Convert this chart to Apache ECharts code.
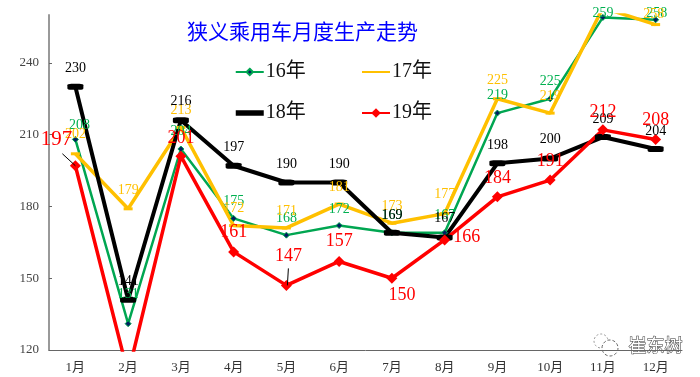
<!DOCTYPE html>
<html>
<head>
<meta charset="utf-8">
<style>html,body{margin:0;padding:0;background:#fff}#chart{width:700px;height:377px}</style>
<script src="https://cdn.jsdelivr.net/npm/echarts@6/dist/echarts.min.js"></script>
</head>
<body>
<div id="chart"></div>
<script>
var months = ['1月','2月','3月','4月','5月','6月','7月','8月','9月','10月','11月','12月'];
var yTicks = [120,150,180,210,240];

var y16 = [208,131,204,175,168,172,169,169,219,225,259,258];
var y17 = [202,179,213,172,171,181,173,177,225,219,263,256];
var y18 = [230,141,216,197,190,190,169,167,198,200,209,204];
var y19 = [197,110,201,161,147,157,150,166,184,191,212,208];

// printed labels, they differ from the line in a few places
var text16 = [208,131,204,175,168,172,169,167,219,225,259,258];
var text17 = [202,179,213,172,171,181,173,177,225,219,null,258];
var text18 = y18;
var text19 = [197,null,201,161,147,157,150,166,184,191,212,208];

// label centre relative to its point
var off16 = [[4,-15],[0,-30],[0,-18],[0,-18],[0,-17],[0,-17],[0,-18],[0,-18],[0,-18],[0,-18],[0,-5],[1,-7]];
var off17 = [[0,-20],[0,-19],[0,-18],[0,-18],[0,-18],[0,-18],[0,-18],[0,-20],[0,-19],[0,-18],[0,0],[-2,-11]];
var off18 = [[0,-19],[0,-19],[0,-20],[0,-19],[0,-19],[0,-19],[0,-18],[0,-20],[0,-19],[0,-20],[0,-19],[0,-19]];
var off19 = [[-19,-27],[0,0],[0,-19],[0,-21],[2,-30],[0,-21],[10,16],[22,-4],[0,-20],[0,-20],[0,-19],[0,-20]];

function makeSeries(values, texts, offs, color, size, symbolH) {
    return values.map(function (v, i) {
        var fs = (texts === text19 && i === 0) ? 21 : size;
        return {
            value: v,
            label: {
                show: texts[i] !== null,
                formatter: String(texts[i]),
                position: 'top',
                distance: 0,
                color: color,
                fontSize: fs,
                fontFamily: 'Liberation Serif',
                offset: [offs[i][0], offs[i][1] + fs / 2 + 1 + symbolH / 2]
            }
        };
    });
}

var legendFont = { fontSize: 20, color: '#111', fontFamily: 'Liberation Serif, Noto Sans CJK SC', padding: [0,0,0,-3] };
var noSymbol = { color: 'transparent', borderWidth: 0 };

var watermark = [{
    type: 'circle', shape: { cx: 601, cy: 341, r: 7 },
    style: { fill: '#fff', stroke: '#999', lineWidth: 1, lineDash: [2, 2] }
}, {
    type: 'circle', shape: { cx: 610, cy: 348, r: 8 },
    style: { fill: '#fff', stroke: '#666', lineWidth: 1, lineDash: [3, 2] }
}, {
    type: 'text', left: 628, top: 336,
    style: { text: '崔东树', fill: '#fff', stroke: '#333', lineWidth: 1, fontSize: 18, fontFamily: 'Noto Sans CJK SC' }
}];

var myChart = echarts.init(document.getElementById('chart'));
var option = {
    animation: false,
    backgroundColor: '#fff',
    title: {
        text: '狭义乘用车月度生产走势',
        left: 182,
        top: 16,
        textStyle: { color: '#0000FF', fontSize: 21, fontWeight: 'normal', fontFamily: 'Noto Sans CJK SC' }
    },
    legend: [{
        left: 228, top: 57, orient: 'vertical', itemGap: 21, itemWidth: 28, itemHeight: 8,
        data: ['16年', { name: '18年', itemStyle: noSymbol, lineStyle: { width: 5.5 } }],
        textStyle: legendFont
    }, {
        left: 356, top: 57, orient: 'vertical', itemGap: 21, itemWidth: 28, itemHeight: 12,
        data: [{ name: '17年', itemStyle: noSymbol }, '19年'],
        textStyle: legendFont
    }],
    grid: { left: 49, right: 18, top: 15, bottom: 27 },
    xAxis: {
        type: 'category',
        data: months,
        axisLine: { lineStyle: { color: '#666', width: 1 } },
        axisTick: { inside: true, length: 3, lineStyle: { color: '#666' } },
        axisLabel: { color: '#333', fontSize: 13, margin: 11, fontFamily: 'Liberation Serif, Noto Sans CJK SC' }
    },
    yAxis: {
        type: 'value',
        min: 120,
        max: 260,
        interval: 30,
        splitLine: { show: false },
        axisLine: { show: true, lineStyle: { color: '#999', width: 2 } },
        axisTick: { show: true, inside: true, length: 3, customValues: yTicks, lineStyle: { color: '#666' } },
        axisLabel: { color: '#444', fontSize: 13, margin: 10, customValues: yTicks, fontFamily: 'Liberation Serif' }
    },
    series: [{
        name: '16年', type: 'line',
        data: makeSeries(y16, text16, off16, '#00B050', 14, 6),
        symbol: 'diamond', symbolSize: 6,
        lineStyle: { color: '#00A651', width: 2.5 },
        itemStyle: { color: '#002060', borderColor: '#00A651', borderWidth: 1 }
    }, {
        name: '17年', type: 'line',
        data: makeSeries(y17, text17, off17, '#FFC000', 14, 3),
        symbol: 'rect', symbolSize: [9, 3],
        lineStyle: { color: '#FFC000', width: 3.5 },
        itemStyle: { color: '#FFC000' }
    }, {
        name: '18年', type: 'line',
        data: makeSeries(y18, text18, off18, '#000', 14, 6),
        symbol: 'roundRect', symbolSize: [16, 6],
        lineStyle: { color: '#000', width: 4 },
        itemStyle: { color: '#000' }
    }, {
        name: '19年', type: 'line',
        data: makeSeries(y19, text19, off19, '#FF0000', 18, 11),
        symbol: 'diamond', symbolSize: 11,
        lineStyle: { color: '#FF0000', width: 3.5 },
        itemStyle: { color: '#FF0000' }
    }],
    graphic: watermark
};
myChart.setOption(option);

// the thin leader lines from the 197 and 147 labels down to their points
function leader(i, dx, dy, endDx) {
    var p = myChart.convertToPixel({ seriesIndex: 3 }, [i, y19[i]]);
    return {
        type: 'line', z: 20,
        shape: { x1: p[0] + dx, y1: p[1] + dy, x2: p[0] + endDx, y2: p[1] },
        style: { stroke: '#000', lineWidth: 1 }
    };
}
myChart.setOption({ graphic: watermark.concat([leader(0, -13, -12, 0), leader(4, 2, -17, 1)]) });
</script>
</body>
</html>
